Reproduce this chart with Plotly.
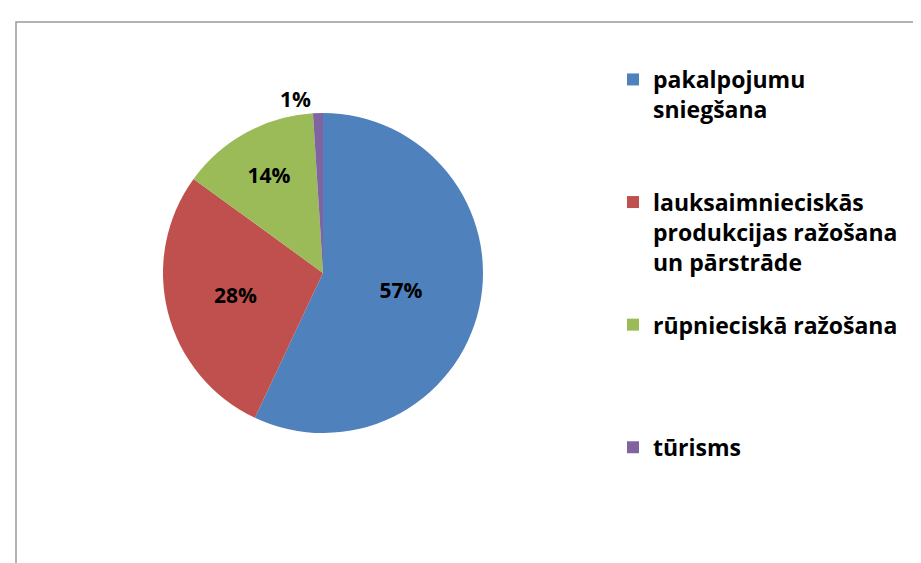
import plotly.graph_objects as go

categories = [
    "pakalpojumu<br>sniegšana",
    "lauksaimnieciskās<br>produkcijas ražošana<br>un pārstrāde",
    "rūpnieciskā ražošana",
    "tūrisms",
]
values = [57, 28, 14, 1]
colors = ["#4F81BD", "#C0504D", "#9BBB59", "#8064A2"]
# blank lines used only to space legend entries like the original
legend_pad = ["<br> <br> ", "<br> ", "<br> <br> <br> ", ""]

W, H = 921, 563
cx, cy, r = 315, 265, 160

fig = go.Figure(
    go.Pie(
        labels=[c + p for c, p in zip(categories, legend_pad)],
        values=values,
        sort=False,
        direction="clockwise",
        rotation=0,
        marker=dict(colors=colors, line=dict(width=0)),
        textinfo="percent",
        texttemplate="%{percent:.0%}",
        textposition=["inside", "inside", "inside", "outside"],
        insidetextorientation="horizontal",
        textfont=dict(family="Open Sans", size=21, color="black", weight="bold"),
        outsidetextfont=dict(family="Open Sans", size=21, color="black", weight="bold"),
        hoverinfo="label+percent",
        domain=dict(
            x=[(cx - r) / W, (cx + r) / W],
            y=[1 - (cy + r) / H, 1 - (cy - r) / H],
        ),
    )
)

fig.update_layout(
    width=W,
    height=H,
    margin=dict(l=0, r=0, t=0, b=0),
    paper_bgcolor="white",
    plot_bgcolor="white",
    showlegend=True,
    legend=dict(
        x=605 / W,
        y=1 - 50 / H,
        xanchor="left",
        yanchor="top",
        valign="top",
        font=dict(family="Open Sans", size=23, color="black", weight="bold"),
        bgcolor="rgba(0,0,0,0)",
    ),
    shapes=[
        dict(
            type="rect",
            xref="paper",
            yref="paper",
            x0=8 / W,
            x1=1.02,
            y0=-0.02,
            y1=1 - 14 / H,
            line=dict(color="#9a9a9a", width=1.5),
            fillcolor="rgba(0,0,0,0)",
            layer="below",
        )
    ],
)

fig.write_html("out.html")
